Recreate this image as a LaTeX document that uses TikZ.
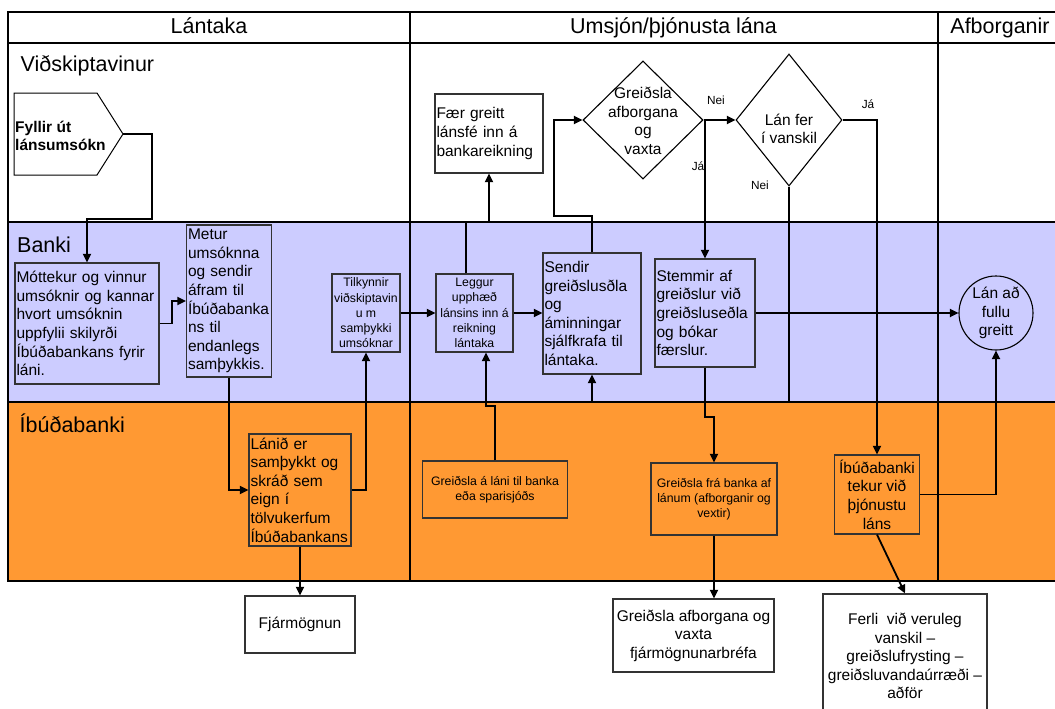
\documentclass[tikz,border=0pt]{standalone}
\usepackage{fontspec}
\setmainfont{Liberation Sans}
\usetikzlibrary{arrows.meta,shapes.geometric}
\definecolor{lav}{HTML}{CCCCFF}
\definecolor{org}{HTML}{FF9933}
\definecolor{bord}{HTML}{333333}
\begin{document}
\begin{tikzpicture}[x=1pt,y=-1pt,
  conn/.style={line width=1.8pt,-{Triangle[length=8.5pt,width=8pt]}},
  lane/.style={line width=1.4pt},
  box/.style={draw=bord,line width=1.2pt,rectangle,inner xsep=1.5pt,inner ysep=0pt},
  big/.style={font=\fontsize{15.5}{18.6}\selectfont},
  small/.style={font=\fontsize{12.3}{15.2}\selectfont},
  lbl/.style={font=\fontsize{11.8}{13}\selectfont,inner sep=0pt},
  head/.style={font=\fontsize{21.5}{24}\selectfont,inner sep=0pt},
  dia/.style={draw=black,line width=1.1pt,diamond,inner sep=0pt,fill=white},
]
\useasboundingbox (0,0) rectangle (1055,709);
% lanes
\fill[white] (8,12) rectangle (1056,222);
\fill[lav] (8,222) rectangle (1056,402);
\fill[org] (8,402) rectangle (1056,581);
\draw[lane] (1056,12) -- (8,12) -- (8,581) -- (1056,581);
\draw[lane] (8,43) -- (1056,43);
\draw[lane] (8,222) -- (1056,222);
\draw[lane] (8,402) -- (1056,402);
\draw[lane] (410,12) -- (410,581);
\draw[lane] (938,12) -- (938,581);
% headers
\node[head,anchor=base] (h1) at (209,34) {Lántaka};
\node[head,anchor=base] (h2) at (673.5,34) {Umsjón/þjónusta lána};
\node[head,anchor=base] (h3) at (1000,34) {Afborganir};
\node[head,anchor=base west] (l1) at (20.5,72) {Viðskiptavinur};
\node[head,anchor=base west] (l2) at (17,252) {Banki};
\node[head,anchor=base west] (l3) at (19.5,432) {Íbúðabanki};
% start shape
\draw[draw=black,line width=1pt,fill=white] (14,93) -- (97,93) -- (123,134) -- (97,175) -- (14,175) -- cycle;
\coordinate (fyllTip) at (123,134);
\node[anchor=west,align=left,inner sep=0pt,font=\fontsize{15.5}{18.6}\selectfont\bfseries] (fyll) at (15,136) {Fyllir út\\lánsumsókn};
% boxes
\node[box,big,fill=lav,minimum width=144,minimum height=121,text width=141,align=left] (mott) at (87,323.5)
  {Móttekur og vinnur\\umsóknir og kannar\\hvort umsóknin\\uppfylii skilyrði\\Íbúðabankans fyrir\\láni.};
\node[box,big,fill=lav,minimum width=85,minimum height=152,text width=82,align=left] (metur) at (229,301)
  {Metur\\umsóknna\\og sendir\\áfram til\\Íbúðabanka\\ns til\\endanlegs\\samþykkis.};
\node[box,small,fill=lav,minimum width=68,minimum height=78,align=center,inner xsep=0pt] (tilk) at (366,313)
  {Tilkynnir\\viðskiptavin\\u m\\samþykki\\umsóknar};
\node[box,big,fill=org,minimum width=102,minimum height=112,text width=99,align=left] (lanid) at (300,490)
  {Lánið er\\samþykkt og\\skráð sem\\eign í\\tölvukerfum\\Íbúðabankans};
\node[box,big,fill=white,minimum width=110,minimum height=57,align=center] (fjar) at (300,624.5) {Fjármögnun};
\node[box,small,fill=lav,minimum width=77,minimum height=78,align=center,inner xsep=0pt] (leggur) at (474.5,313)
  {Leggur\\upphæð\\lánsins inn á\\reikning\\lántaka};
\node[box,big,fill=white,minimum width=108,minimum height=79,text width=105,align=left] (faer) at (489,133.5)
  {Fær greitt\\lánsfé inn á\\bankareikning};
\node[box,small,fill=org,minimum width=145,minimum height=57,align=center] (grla) at (495,489.5)
  {Greiðsla á láni til banka\\eða sparisjóðs};
\node[box,big,fill=lav,minimum width=98,minimum height=121,text width=95,align=left] (sendir) at (592,313.5)
  {Sendir\\greiðslusðla\\og\\áminningar\\sjálfkrafa til\\lántaka.};
\node[box,big,fill=lav,minimum width=100,minimum height=108,text width=97,align=left] (stemmir) at (705,313)
  {Stemmir af\\greiðslur við\\greiðsluseðla\\og bókar\\færslur.};
\node[dia,minimum width=120,minimum height=118] (d1) at (643,120) {};
\node[big,align=center,inner sep=0pt] (d1t) at (643,121) {Greiðsla\\afborgana\\og\\vaxta};
\node[dia,minimum width=106,minimum height=132] (d2) at (789,120) {};
\node[big,align=center,inner sep=0pt] (d2t) at (789,129) {Lán fer\\í vanskil};
\node[draw=black,line width=1.1pt,circle,fill=lav,minimum size=74,inner sep=0pt,big,align=center] (circ) at (996,313)
  {Lán að\\fullu\\greitt};
\node[box,big,fill=org,minimum width=85,minimum height=79,align=center,inner xsep=0pt] (ibtek) at (877,494.5)
  {Íbúðabanki\\tekur við\\þjónustu\\láns};
\node[box,small,fill=org,minimum width=126,minimum height=72,align=center,inner xsep=0pt] (grfra) at (714,499)
  {Greiðsla frá banka af\\lánum (afborganir og\\vextir)};
\node[box,big,fill=white,minimum width=161,minimum height=73,align=center,inner xsep=0pt] (graf) at (693.5,635.5)
  {Greiðsla afborgana og\\vaxta\\fjármögnunarbréfa};
\node[box,big,fill=white,minimum width=164,minimum height=124,align=center,inner xsep=0pt] (ferli) at (905,656)
  {Ferli\ \ við veruleg\\vanskil –\\greiðslufrysting –\\greiðsluvandaúrræði –\\aðför};
% connectors
\draw[conn] (fyllTip) -- (152,134) -- (152,219) -| (mott.north);
\draw[conn] (mott.east) -- (172,323.5) |- (metur.west);
\draw[conn] (metur.south) |- (lanid.west);
\draw[conn] (lanid.east) -| (tilk.south);
\draw[conn] (lanid.south) -- (fjar.north);
\draw[conn] (tilk.east) -- (leggur.west);
\draw[conn] ([xshift=-8.5pt]leggur.north) -- (466,222) -| (faer.south);
\draw[conn] (grla.north) -- (495,406) -| ([xshift=11.5pt]leggur.south);
\draw[conn] (leggur.east) -- (leggur.east -| sendir.west);
\draw[conn] (sendir.north) -- (592,216) -- (554,216) |- (d1.west);
\draw[conn] (d1.east) -- (d2.west);
\draw[conn] (d1.east -| stemmir.north) -- (stemmir.north);
\draw[conn] (d2.east) -| (ibtek.north);
\draw[conn] (d2.south) -- (789,402) -| (sendir.south);
\draw[conn] (stemmir.east) -- (circ.west);
\draw[conn] (ibtek.east) -| (circ.south);
\draw[conn] (stemmir.south) -- (705,417) -| (grfra.north);
\draw[conn] (grfra.south) -- (grfra.south |- graf.north);
\draw[conn] (ibtek.south) -- (ferli.north);
% labels
\node[lbl] (n1) at (716,100) {Nei};
\node[lbl] (j1) at (698,166) {Já};
\node[lbl] (j2) at (868,104) {Já};
\node[lbl] (n2) at (760,185) {Nei};
\end{tikzpicture}
\end{document}
